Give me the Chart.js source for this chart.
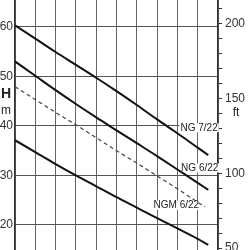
<!DOCTYPE html>
<html>
<head>
<meta charset="utf-8">
<script src="https://cdn.jsdelivr.net/npm/chart.js@4/dist/chart.umd.min.js"></script>
<style>
  html, body { margin: 0; padding: 0; background: #fff; }
  #wrap { width: 250px; height: 250px; }
</style>
</head>
<body>
<div id="wrap"><canvas id="c" width="250" height="250"></canvas></div>
<script>
// ---- data ----
const flowQ      = [0, 1, 2, 3, 4, 5, 6, 7, 8, 9, 9.52];
const headNG722  = [60.3, 57.6, 54.9, 52.3, 49.7, 47.0, 44.2, 41.3, 38.5, 35.6, 34.1];
const headNG622  = [53.0, 50.1, 47.2, 44.4, 41.7, 39.1, 36.5, 33.9, 31.2, 28.5, 27.1];
const flowNGM    = [0, 1, 2, 3, 4, 5, 6, 7, 8, 9, 9.36];
const headNGM622 = [47.9, 45.3, 42.7, 40.2, 37.6, 35.0, 32.5, 29.9, 27.3, 24.6, 23.7];
const headLower  = [37.1, 34.7, 32.3, 30.0, 27.8, 25.6, 23.5, 21.4, 19.3, 17.2, 16.0];
const flowGrid   = [0, 1, 2, 3, 4, 5, 6, 7, 8, 9, 10];
const headTicks  = [20, 30, 40, 50, 60];
const feetTicks  = [50, 60, 70, 80, 90, 100, 110, 120, 130, 140, 150, 160, 170, 180, 190, 200, 210];
const feetLabels = [50, 100, 150, 200];
const curveLabels = ['NG 7/22', 'NG 6/22', 'NGM 6/22'];
const axisLabelH = 'H', axisLabelM = 'm', axisLabelFt = 'ft';

const pts = (xs, ys) => xs.map((x, i) => ({ x: x, y: ys[i] }));
const FONT = "'Liberation Sans', Arial, sans-serif";

const textPlugin = {
  id: 'texts',
  beforeDatasetsDraw(chart) {
    const ctx = chart.ctx;
    const xs = chart.scales.x, ys = chart.scales.y;
    ctx.save();
    ctx.font = '10px ' + FONT;
    ctx.textAlign = 'center';
    ctx.textBaseline = 'middle';
    const lab = [
      [curveLabels[0], xs.getPixelForValue(9.07), ys.getPixelForValue(39.6)],
      [curveLabels[1], xs.getPixelForValue(9.1), ys.getPixelForValue(31.5)],
      [curveLabels[2], xs.getPixelForValue(7.95), ys.getPixelForValue(24.0)]
    ];
    lab.forEach(([t, x, y]) => {
      const w = ctx.measureText(t).width;
      ctx.fillStyle = '#fff';
      ctx.fillRect(x - w / 2 - 1, y - 4.5, w + 2, 9);
      ctx.fillStyle = '#222';
      ctx.fillText(t, x, y + 0.5);
    });
    ctx.restore();
  },
  afterDraw(chart) {
    const ctx = chart.ctx;
    ctx.save();
    ctx.fillStyle = '#222';
    ctx.textAlign = 'center';
    ctx.textBaseline = 'middle';
    ctx.font = 'bold 14px ' + FONT;
    ctx.fillText(axisLabelH, 6, 94);
    ctx.font = '12px ' + FONT;
    ctx.fillText(axisLabelM, 6, 111);
    ctx.fillText(axisLabelFt, 236, 113);
    ctx.restore();
  }
};

const noPad = s => { s.paddingTop = 0; s.paddingBottom = 0; s.paddingLeft = 0; s.paddingRight = 0; };

new Chart(document.getElementById('c'), {
  type: 'scatter',
  data: {
    datasets: [
      { label: curveLabels[0], data: pts(flowQ, headNG722), borderColor: '#111', borderWidth: 2 },
      { label: curveLabels[1], data: pts(flowQ, headNG622), borderColor: '#111', borderWidth: 2 },
      { label: curveLabels[2], data: pts(flowNGM, headNGM622), borderColor: '#444', borderWidth: 1.2, borderDash: [4, 3] },
      { label: 'lower curve', data: pts(flowQ, headLower), borderColor: '#111', borderWidth: 2 }
    ].map(d => Object.assign(d, { showLine: true, pointRadius: 0, fill: false, cubicInterpolationMode: 'monotone' }))
  },
  options: {
    responsive: false,
    animation: false,
    devicePixelRatio: 1,
    layout: { padding: 0 },
    plugins: { legend: { display: false }, tooltip: { enabled: false } },
    scales: {
      x: {
        type: 'linear', min: 0, max: 10,
        afterBuildTicks: s => { s.ticks = flowGrid.map(v => ({ value: v })); },
        afterFit: s => { s.height = 0; noPad(s); },
        ticks: { display: false },
        grid: { color: '#666', lineWidth: 1, drawTicks: false },
        border: { display: false }
      },
      y: {
        position: 'left', min: 14.957, max: 65.386,
        afterBuildTicks: s => { s.ticks = headTicks.map(v => ({ value: v })); },
        afterFit: s => { s.width = 15; noPad(s); },
        ticks: { color: '#333', font: { family: FONT, size: 12 }, padding: 2 },
        grid: { color: '#555', lineWidth: 1, drawTicks: false },
        border: { display: true, color: '#333', width: 1.5 }
      },
      y2: {
        position: 'right', min: 48.67, max: 215.85,
        afterBuildTicks: s => { s.ticks = feetTicks.map(v => ({ value: v })); },
        afterFit: s => { s.width = 32; noPad(s); },
        ticks: {
          autoSkip: false, color: '#333', font: { family: FONT, size: 12 }, padding: 3,
          callback: v => feetLabels.includes(v) ? String(v) : ''
        },
        grid: { drawOnChartArea: false, drawTicks: true, tickLength: 4, color: '#333' },
        border: { display: true, color: '#333', width: 1.5 }
      }
    }
  },
  plugins: [textPlugin]
});
</script>
</body>
</html>
